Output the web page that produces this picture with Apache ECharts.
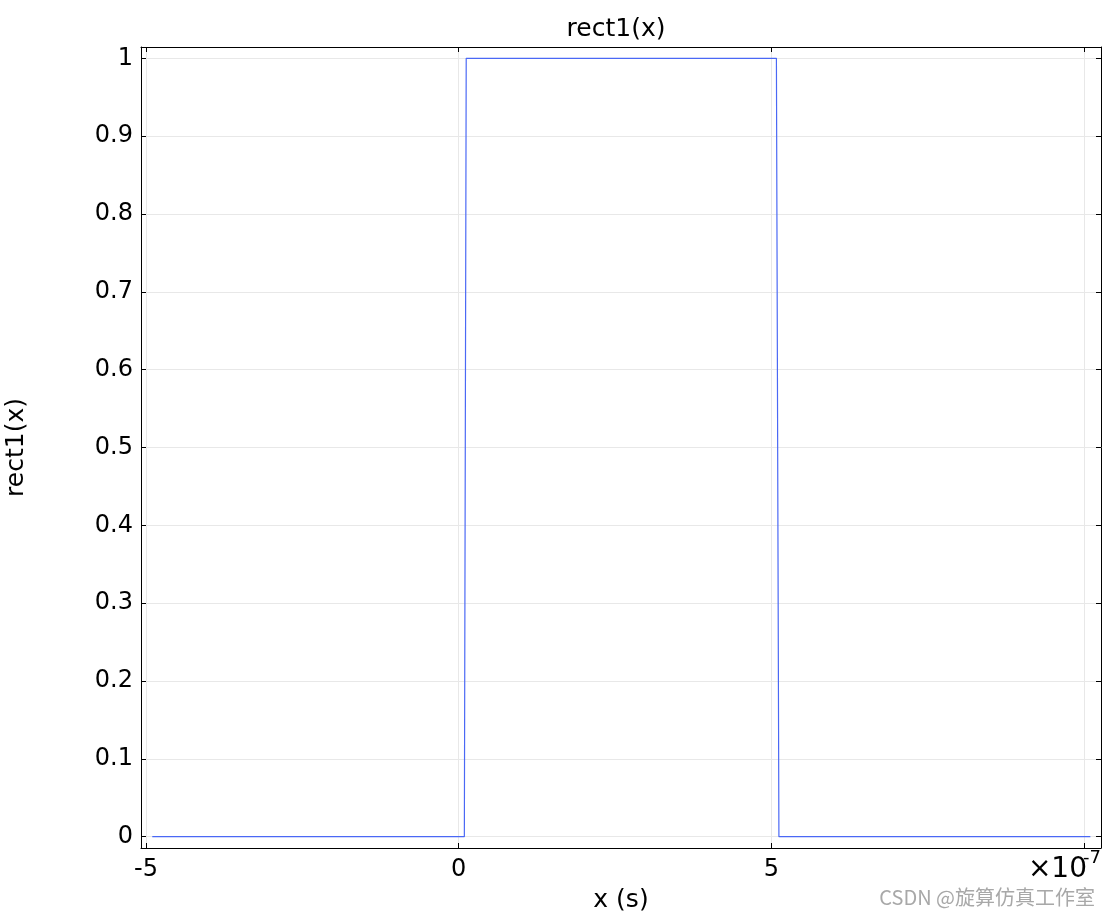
<!DOCTYPE html>
<html>
<head>
<meta charset="utf-8">
<script src="https://cdn.jsdelivr.net/npm/echarts@6/dist/echarts.min.js"></script>
<style>html,body{margin:0;padding:0;background:#fff}#c{width:1108px;height:915px}</style>
</head>
<body>
<div id="c"></div>
<script>
// data (x in units of 1e-7 s)
var xValues = [-4.9, 0.09, 0.12, 5.08, 5.12, 10.1];
var yValues = [0, 0, 1, 1, 0, 0];
var xTicks = [-5, 0, 5, 10];
var xTickLabels = ['-5', '0', '5', ''];
var yTicks = [0, 0.1, 0.2, 0.3, 0.4, 0.5, 0.6, 0.7, 0.8, 0.9, 1];
var yTickLabels = ['0', '0.1', '0.2', '0.3', '0.4', '0.5', '0.6', '0.7', '0.8', '0.9', '1'];
var titleText = 'rect1(x)';
var xName = 'x (s)';
var yName = 'rect1(x)';
var watermark = 'CSDN @旋算仿真工作室';

var FONT = 'DejaVu Sans';
var xMin = -5.08, xMax = 10.27, yMin = -0.0145, yMax = 1.0145;

function lab(vals, labs) {
  return function (v) {
    for (var i = 0; i < vals.length; i++) if (Math.abs(vals[i] - v) < 1e-9) return labs[i];
    return '';
  };
}

var chart = echarts.init(document.getElementById('c'), null, {renderer: 'canvas'});
var axisLine = {show: true, onZero: false, lineStyle: {color: '#000', width: 1}};
var data = xValues.map(function (x, i) { return [x, yValues[i]]; });

chart.setOption({
  animation: false,
  backgroundColor: '#fff',
  grid: {left: 141, top: 47, right: 7, bottom: 67, containLabel: false, outerBoundsMode: 'none'},
  xAxis: [{
    type: 'value', min: xMin, max: xMax, position: 'bottom',
    name: xName, nameLocation: 'middle', nameGap: 40,
    nameTextStyle: {fontFamily: FONT, fontSize: 25, color: '#000'},
    axisLine: axisLine,
    axisTick: {show: true, inside: true, length: 5, customValues: xTicks, lineStyle: {color: '#000'}},
    axisLabel: {customValues: xTicks, formatter: lab(xTicks, xTickLabels), margin: 10, fontFamily: FONT, fontSize: 24, color: '#000'},
    splitLine: {show: true, customValues: xTicks, lineStyle: {color: '#e8e8e8', width: 1}}
  }, {
    type: 'value', min: xMin, max: xMax, position: 'top',
    axisLine: axisLine,
    axisTick: {show: true, inside: true, length: 5, customValues: xTicks, lineStyle: {color: '#000'}},
    axisLabel: {show: false},
    splitLine: {show: false}
  }],
  yAxis: [{
    type: 'value', min: yMin, max: yMax, position: 'left',
    name: yName, nameLocation: 'middle', nameGap: 112, nameRotate: 90,
    nameTextStyle: {fontFamily: FONT, fontSize: 25, color: '#000'},
    axisLine: axisLine,
    axisTick: {show: true, inside: true, length: 5, customValues: yTicks, lineStyle: {color: '#000'}},
    axisLabel: {customValues: yTicks, formatter: lab(yTicks, yTickLabels), margin: 8, fontFamily: FONT, fontSize: 24, color: '#000'},
    splitLine: {show: true, customValues: yTicks, lineStyle: {color: '#e8e8e8', width: 1}}
  }, {
    type: 'value', min: yMin, max: yMax, position: 'right',
    axisLine: axisLine,
    axisTick: {show: true, inside: true, length: 5, customValues: yTicks, lineStyle: {color: '#000'}},
    axisLabel: {show: false},
    splitLine: {show: false}
  }],
  graphic: [
    {type: 'text', x: 616, y: 29, style: {text: titleText, x: 0, y: 0, align: 'center', verticalAlign: 'middle', fontFamily: FONT, fontSize: 25, fill: '#000'}},
    {type: 'text', x: 1087, y: 870, style: {text: '×10', align: 'right', verticalAlign: 'middle', fontFamily: FONT, fontSize: 28, fill: '#000'}},
    {type: 'text', x: 1101, y: 858, style: {text: '-7', align: 'right', verticalAlign: 'middle', fontFamily: FONT, fontSize: 18, fill: '#000'}},
    {type: 'text', x: 1095, y: 897, style: {text: watermark, align: 'right', verticalAlign: 'middle', fontFamily: 'Noto Sans CJK SC', fontSize: 20, fill: '#a8a8a8'}}
  ],
  series: [{
    type: 'line', data: data, xAxisIndex: 0, yAxisIndex: 0,
    showSymbol: false, symbol: 'none',
    lineStyle: {color: '#4a68f5', width: 1.2}
  }]
});
</script>
</body>
</html>
